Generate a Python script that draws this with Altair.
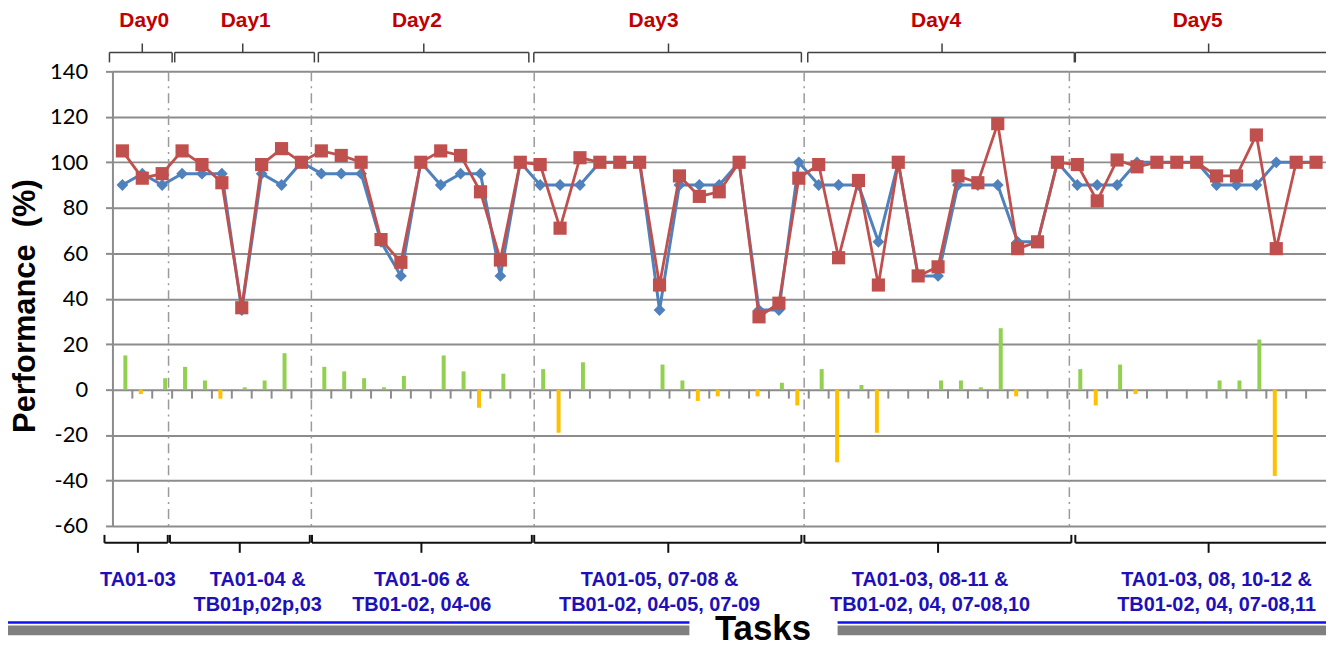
import altair as alt
import pandas as pd

# ---- data ----
idx = list(range(61))
blue = [90, 95, 90,
        95, 95, 95, 35, 95, 90, 100,
        95, 95, 95, 65, 50, 100, 90, 95, 95, 50, 100,
        90, 90, 90, 100, 100, 100, 35, 90, 90, 90, 100, 35, 35, 100,
        90, 90, 90, 65, 100, 50, 50, 90, 90, 90, 65, 65, 100,
        90, 90, 90, 100, 100, 100, 100, 90, 90, 90, 100, 100, 100]
red = [105, 93, 95,
       105, 99, 91, 36, 99, 106, 100,
       105, 103, 100, 66, 56, 100, 105, 103, 87, 57, 100,
       99, 71, 102, 100, 100, 100, 46, 94, 85, 87, 100, 32, 38, 93,
       99, 58, 92, 46, 100, 50, 54, 94, 91, 117, 62, 65, 100,
       99, 83, 101, 98, 100, 100, 100, 94, 94, 112, 62, 100, 100]
diff = [15, -2, 5,
        10, 4, -4, 1, 4, 16, 0,
        10, 8, 5, 1, 6, 0, 15, 8, -8, 7, 0,
        9, -19, 12, 0, 0, 0, 11, 4, -5, -3, 0, -3, 3, -7,
        9, -32, 2, -19, 0, 0, 4, 4, 1, 27, -3, 0, 0,
        9, -7, 11, -2, 0, 0, 0, 4, 4, 22, -38, 0, 0]

day_names = ["Day0", "Day1", "Day2", "Day3", "Day4", "Day5"]
task_labels = ["TA01-03",
               "TA01-04  &\nTB01p,02p,03",
               "TA01-06  &\nTB01-02, 04-06",
               "TA01-05, 07-08 &\nTB01-02, 04-05, 07-09",
               "TA01-03, 08-11 &\nTB01-02, 04, 07-08,10",
               "TA01-03, 08, 10-12 &\nTB01-02, 04, 07-08,11"]
y_ticks = [-60, -40, -20, 0, 20, 40, 60, 80, 100, 120, 140]

# ---- annotation layout (category units) ----
separators = [2.32, 9.5, 20.7, 34.27, 47.6]
top_start = [-0.65, 2.63, 9.85, 20.68, 34.45, 47.9]
top_end = [2.5, 9.65, 20.43, 34.13, 47.85, 61.5]
top_mid = [1.0, 6.05, 15.15, 27.45, 41.2, 54.6]
day_label_x = [1.1, 6.2, 14.8, 26.7, 40.9, 54.05]
bot_start = [-0.9, 2.39, 9.53, 20.7, 34.28, 47.9]
bot_end = [2.28, 9.42, 20.58, 34.13, 47.7, 61.5]
bot_mid = [0.78, 5.9, 15.03, 27.44, 41.0, 54.6]
task_label_x = [0.78, 6.8, 15.05, 27.0, 40.6, 55.0]

df = pd.DataFrame({"idx": idx, "blue": blue, "red": red, "diff": diff})
sep_df = pd.DataFrame({"pos": separators})
tick_df = pd.DataFrame({"b": [i + 0.5 for i in range(60)]})
top_df = pd.DataFrame({"start": top_start, "end": top_end, "mid": top_mid,
                       "lx": day_label_x, "name": day_names})
bot_df = pd.DataFrame({"start": bot_start, "end": bot_end, "mid": bot_mid,
                       "lx": task_label_x, "name": task_labels})
one = pd.DataFrame({"a": [0]})

XS = alt.Scale(domain=[-0.5, 60.5], nice=False, zero=False, padding=0)
YS = alt.Scale(domain=[-60, 140], nice=False, zero=False, padding=0)
yaxis = alt.Axis(values=y_ticks, title=None, labelExpr="'' + datum.value")

def X(f):
    return alt.X(f, scale=XS, axis=None)

def Yf(f):
    return alt.Y(f, scale=YS, axis=yaxis)

base = alt.Chart(df)

bars_pos = base.transform_filter("datum.diff > 0").mark_bar(
    size=4, xOffset=3, color="#92D050", orient="vertical"
).encode(x=X("idx:Q"), y=Yf("diff:Q"), y2=alt.datum(0))
bars_neg = base.transform_filter("datum.diff < 0").mark_bar(
    size=4, xOffset=-1.5, color="#FFC000", orient="vertical"
).encode(x=X("idx:Q"), y=Yf("diff:Q"), y2=alt.datum(0))

zero_ticks = alt.Chart(tick_df).mark_rule(color="#8c8c8c", strokeWidth=2).encode(
    x=X("b:Q"), y=alt.value(320), y2=alt.value(329))

seps = alt.Chart(sep_df).mark_rule(
    color="#9a9a9a", strokeWidth=1.5, strokeDash=[10, 5, 2, 5]
).encode(x=X("pos:Q"))

blue_line = base.mark_line(color="#4F81BD", strokeWidth=3).encode(x=X("idx:Q"), y=Yf("blue:Q"))
blue_pts = base.mark_point(shape="diamond", filled=True, size=140, color="#4F81BD", opacity=1).encode(
    x=X("idx:Q"), y=Yf("blue:Q"))
red_line = base.mark_line(color="#C0504D", strokeWidth=2.8).encode(x=X("idx:Q"), y=Yf("red:Q"))
red_pts = base.mark_square(size=175, color="#C0504D", opacity=1).encode(
    x=X("idx:Q"), y=Yf("red:Q"))

# top brackets
tb = alt.Chart(top_df)
top_h = tb.mark_rule(color="#404040", strokeWidth=1.5).encode(
    x=X("start:Q"), x2="end:Q", y=alt.value(-19))
top_ends = tb.transform_fold(["start", "end"]).mark_rule(color="#404040", strokeWidth=1.5).encode(
    x=X("value:Q"), y=alt.value(-19), y2=alt.value(-9))
top_mid_r = tb.mark_rule(color="#404040", strokeWidth=1.5).encode(
    x=X("mid:Q"), y=alt.value(-28), y2=alt.value(-19))
day_txt = tb.mark_text(font="Liberation Sans", fontWeight="bold", fontSize=21,
                       color="#C00000", baseline="middle").encode(
    x=X("lx:Q"), y=alt.value(-51), text="name:N")

# bottom brackets
bb = alt.Chart(bot_df)
bot_h = bb.mark_rule(color="#111111", strokeWidth=2).encode(
    x=X("start:Q"), x2="end:Q", y=alt.value(474))
bot_ends = bb.transform_fold(["start", "end"]).mark_rule(color="#111111", strokeWidth=2).encode(
    x=X("value:Q"), y=alt.value(466), y2=alt.value(474))
bot_mid_r = bb.mark_rule(color="#111111", strokeWidth=2).encode(
    x=X("mid:Q"), y=alt.value(474), y2=alt.value(484))
task_txt = bb.mark_text(font="Liberation Sans", fontWeight="bold", fontSize=20,
                        color="#1E10B8", baseline="middle", lineBreak="\n",
                        lineHeight=26).encode(
    x=X("lx:Q"), y=alt.value(511), text="name:N")

# titles and decorations
ytitle = alt.Chart(pd.DataFrame({"t": ["Performance\u00a0\u00a0(%)"]})).mark_text(
    angle=270, font="Liberation Sans", fontWeight="bold", fontSize=31, color="black",
    baseline="middle", align="center").encode(
    x=alt.value(-87), y=alt.value(236), text="t:N")

blue_l1 = alt.Chart(one).mark_rule(color="#1010F0", strokeWidth=2.5).encode(
    x=alt.value(-113), x2=alt.value(580), y=alt.value(554))
blue_l2 = alt.Chart(one).mark_rule(color="#1010F0", strokeWidth=2.5).encode(
    x=alt.value(729), x2=alt.value(1225), y=alt.value(554))
gray_l1 = alt.Chart(one).mark_rule(color="#808080", strokeWidth=10).encode(
    x=alt.value(-113), x2=alt.value(580), y=alt.value(562))
gray_l2 = alt.Chart(one).mark_rule(color="#808080", strokeWidth=10).encode(
    x=alt.value(729), x2=alt.value(1225), y=alt.value(562))
tasks_t = alt.Chart(pd.DataFrame({"t": ["Tasks"]})).mark_text(
    font="Liberation Sans", fontWeight="bold", fontSize=35, color="black",
    baseline="alphabetic", align="center").encode(
    x=alt.value(654), y=alt.value(572), text="t:N")

chart = alt.layer(
    bars_pos, bars_neg, zero_ticks, seps,
    blue_line, blue_pts, red_line, red_pts,
    top_h, top_ends, top_mid_r, day_txt,
    bot_h, bot_ends, bot_mid_r, task_txt,
    ytitle, blue_l1, blue_l2, gray_l1, gray_l2, tasks_t,
).properties(
    width=1220, height=457,
    padding={"left": 105, "top": 62, "right": 0, "bottom": 119},
    autosize=alt.AutoSizeParams(type="none"),
    background="white",
).configure_view(stroke=None).configure_axisY(
    grid=True, gridColor="#8c8c8c", gridWidth=2,
    domainColor="#8c8c8c", domainWidth=2,
    tickColor="#8c8c8c", tickWidth=2, tickSize=7,
    labelFont="Lato", labelFontSize=22, labelColor="black", labelPadding=18,
)

chart.save("out.html", embed_options={"renderer": "svg", "actions": False})
